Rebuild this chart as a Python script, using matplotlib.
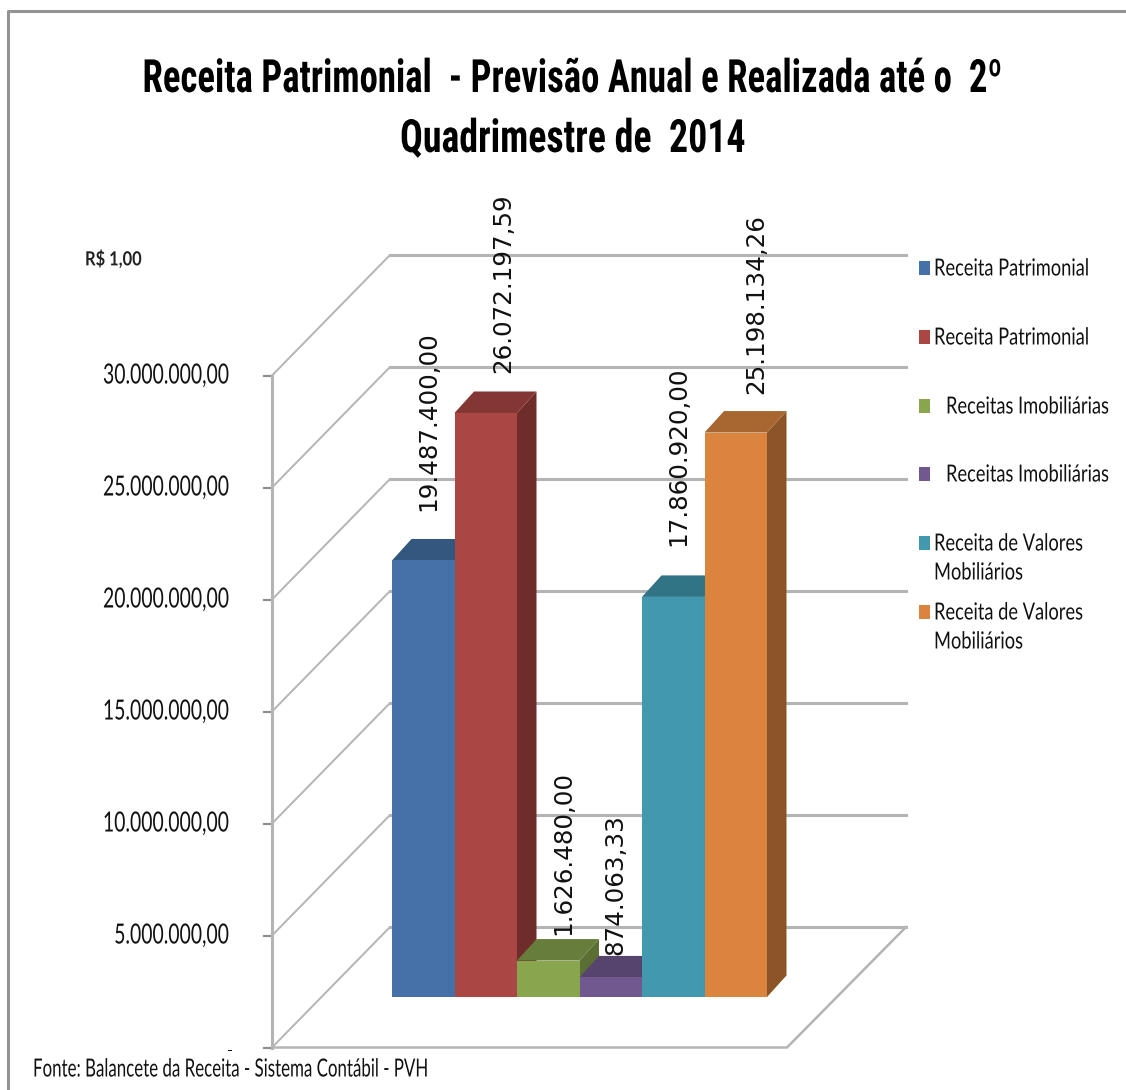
import matplotlib
matplotlib.use("Agg")
import matplotlib.pyplot as plt
from matplotlib.patches import Polygon, Rectangle
from matplotlib.patheffects import AbstractPathEffect
from matplotlib.transforms import Affine2D

FONT = ['Lato', 'Open Sans', 'DejaVu Sans']
TITLE_FONT = ['Roboto Condensed', 'Liberation Sans Narrow', 'Lato', 'DejaVu Sans']

series_names = ['Receita Patrimonial', 'Receita Patrimonial', '   Receitas Imobiliárias',
                '   Receitas Imobiliárias', 'Receita de Valores\nMobiliários',
                'Receita de Valores\nMobiliários']
values = [19487400.00, 26072197.59, 1626480.00, 874063.33, 17860920.00, 25198134.26]
value_labels = ['19.487.400,00', '26.072.197,59', '1.626.480,00', '874.063,33',
                '17.860.920,00', '25.198.134,26']
axis_values = [0, 5000000, 10000000, 15000000, 20000000, 25000000, 30000000]
axis_labels = ['-', '5.000.000,00', '10.000.000,00', '15.000.000,00', '20.000.000,00',
               '25.000.000,00', '30.000.000,00']
title_lines = ['Receita Patrimonial  - Previsão Anual e Realizada até o  2º',
               'Quadrimestre de  2014']
unit_text = 'R$ 1,00'
source_text = 'Fonte: Balancete da Receita - Sistema Contábil - PVH'

face = ['#4571A8', '#AA4643', '#89A54E', '#71588F', '#4198AF', '#DB843D']
top = ['#34577F', '#843634', '#677D3B', '#56436E', '#317486', '#A86630']
side = ['#2E4D72', '#6E2C2B', '#5B6F34', '#4B3B60', '#2B6675', '#8B5527']
GRID = '#b4b4b4'

W, H = 1126, 1090
BAR_W = 62.5
X0 = 392
BASE = 997
K = 22.40e-6

fig = plt.figure(figsize=(W / 100, H / 100), dpi=100)
ax = fig.add_axes([0, 0, 1, 1])
ax.set_xlim(-X0 / BAR_W, (W - X0) / BAR_W)
ax.set_ylim(-(H - BASE) / K, BASE / K)
ax.axis('off')
renderer = fig.canvas.get_renderer()


def dx(px):
    return px / BAR_W


def dy(px):
    return px / K


def px_x(p):
    return (p - X0) / BAR_W


def px_y(p):
    return (BASE - p) / K


class Squeeze(AbstractPathEffect):
    """Narrow a text horizontally about a pivot (the reference's text is condensed)."""

    def __init__(self, sx, cx):
        super().__init__()
        self.sx, self.cx = sx, cx

    def draw_path(self, r, gc, tpath, affine, rgbFace=None):
        squeeze = Affine2D().translate(-self.cx, 0).scale(self.sx, 1).translate(self.cx, 0)
        r.draw_path(gc, tpath, affine + squeeze, rgbFace)


def narrow_text(xp, yp, s, width_px=None, sx=None, inside=False, **kw):
    """Real text at pixel position (xp, yp), condensed to width_px wide.
    inside=True: the full-width text box is kept within the figure, and the
    narrowing pivot is chosen so that the narrowed text starts at xp."""
    kw.setdefault('family', FONT)
    kw.setdefault('color', '#111111')
    kw.setdefault('zorder', 20)
    t = ax.text(px_x(xp), px_y(yp), s, **kw)
    bb = t.get_window_extent(renderer)
    if sx is None:
        sx = width_px / bb.width
    pivot = xp
    if inside:
        left = min(xp, W - bb.width - 8)
        t.set_x(px_x(left))
        if left != xp:
            pivot = (xp - left * sx) / (1 - sx)
    t.set_path_effects([Squeeze(sx, pivot)])
    return sx


# frame
ax.plot([px_x(7.5), px_x(7.5), px_x(1126)], [px_y(1090), px_y(10.5), px_y(10.5)],
        color='#939393', lw=2.2, solid_capstyle='butt', zorder=1)

# walls
front_x, back_x, right_x = px_x(272), px_x(390), px_x(906)
front_off, back_off = dy(-50.5), dy(70)
AXIS_SX = None
for v, lab in reversed(list(zip(axis_values, axis_labels))):
    fy, by = v + front_off, v + back_off
    ax.plot([front_x, back_x], [fy, by], color=GRID, lw=1.4, zorder=2)
    ax.plot([back_x, right_x], [by, by], color=GRID, lw=2.2, zorder=2)
    ax.plot([front_x - dx(8), front_x], [fy, fy], color='#8e8e8e', lw=1.6, zorder=3)
    yp = BASE - (fy * K)
    if v == 0:
        narrow_text(230, 1051, lab, sx=1.0, ha='center', va='center', fontsize=11, weight='bold')
    elif AXIS_SX is None:
        AXIS_SX = narrow_text(229, yp, lab, width_px=126, ha='right', va='center', fontsize=20)
    else:
        narrow_text(229, yp, lab, sx=AXIS_SX, ha='right', va='center', fontsize=20)
ax.plot([front_x, front_x], [front_off, axis_values[-1] + front_off], color=GRID, lw=2.2, zorder=3)
floor_end = px_x(787)
ax.plot([front_x, floor_end, right_x], [front_off, front_off, back_off], color=GRID, lw=1.8, zorder=2)

# bars
DX, DY = dx(19.5), dy(21.5)
label_x_px = [428, 503, 563, 615, 678, 756]
label_gap_px = [49, 40, 26, 22, 51, 39]
for i, v in enumerate(values):
    ax.add_patch(Polygon([(i + 1, 0), (i + 1 + DX, DY), (i + 1 + DX, v + DY), (i + 1, v)],
                         fc=side[i], ec='none', zorder=4 + i))
    ax.add_patch(Polygon([(i, v), (i + 1, v), (i + 1 + DX, v + DY), (i + DX, v + DY)],
                         fc=top[i], ec='none', zorder=4 + i))
    ax.add_patch(Rectangle((i, 0), 1, v, fc=face[i], ec='none', zorder=4 + i))
    ax.text(px_x(label_x_px[i]), v + dy(label_gap_px[i]), value_labels[i], rotation=90,
            ha='center', va='bottom', family='DejaVu Sans', fontsize=17.7, color='#111111', zorder=20)

# title, notes
narrow_text(573, 79, title_lines[0], width_px=861, ha='center', va='center',
            fontsize=33, weight='bold', color='#000000', family=TITLE_FONT)
narrow_text(573, 139, title_lines[1], width_px=346, ha='center', va='center',
            fontsize=33, weight='bold', color='#000000', family=TITLE_FONT)
narrow_text(85, 259, unit_text, width_px=57, ha='left', va='center', fontsize=14, weight='bold', color='#222222')
narrow_text(33, 1069, source_text, width_px=394, ha='left', va='center', fontsize=18)

# legend
legend_y_px = [268, 337, 406, 474, 543, 612]
LEG_SX = None
for n, c, yp in zip(series_names, face, legend_y_px):
    ax.add_patch(Rectangle((px_x(919), px_y(yp + 7)), dx(11), dy(14.5), fc=c, ec='none', zorder=20))
    xp = 946 if n.startswith(' ') else 934
    for j, t in enumerate(n.strip().split('\n')):
        if LEG_SX is None:
            LEG_SX = narrow_text(xp, yp + 1 + j * 29, t, width_px=155, inside=True, ha='left', va='center', fontsize=17)
        else:
            narrow_text(xp, yp + 1 + j * 29, t, sx=LEG_SX, inside=True, ha='left', va='center', fontsize=17)

fig.savefig('out.png', dpi=100, facecolor='white')
